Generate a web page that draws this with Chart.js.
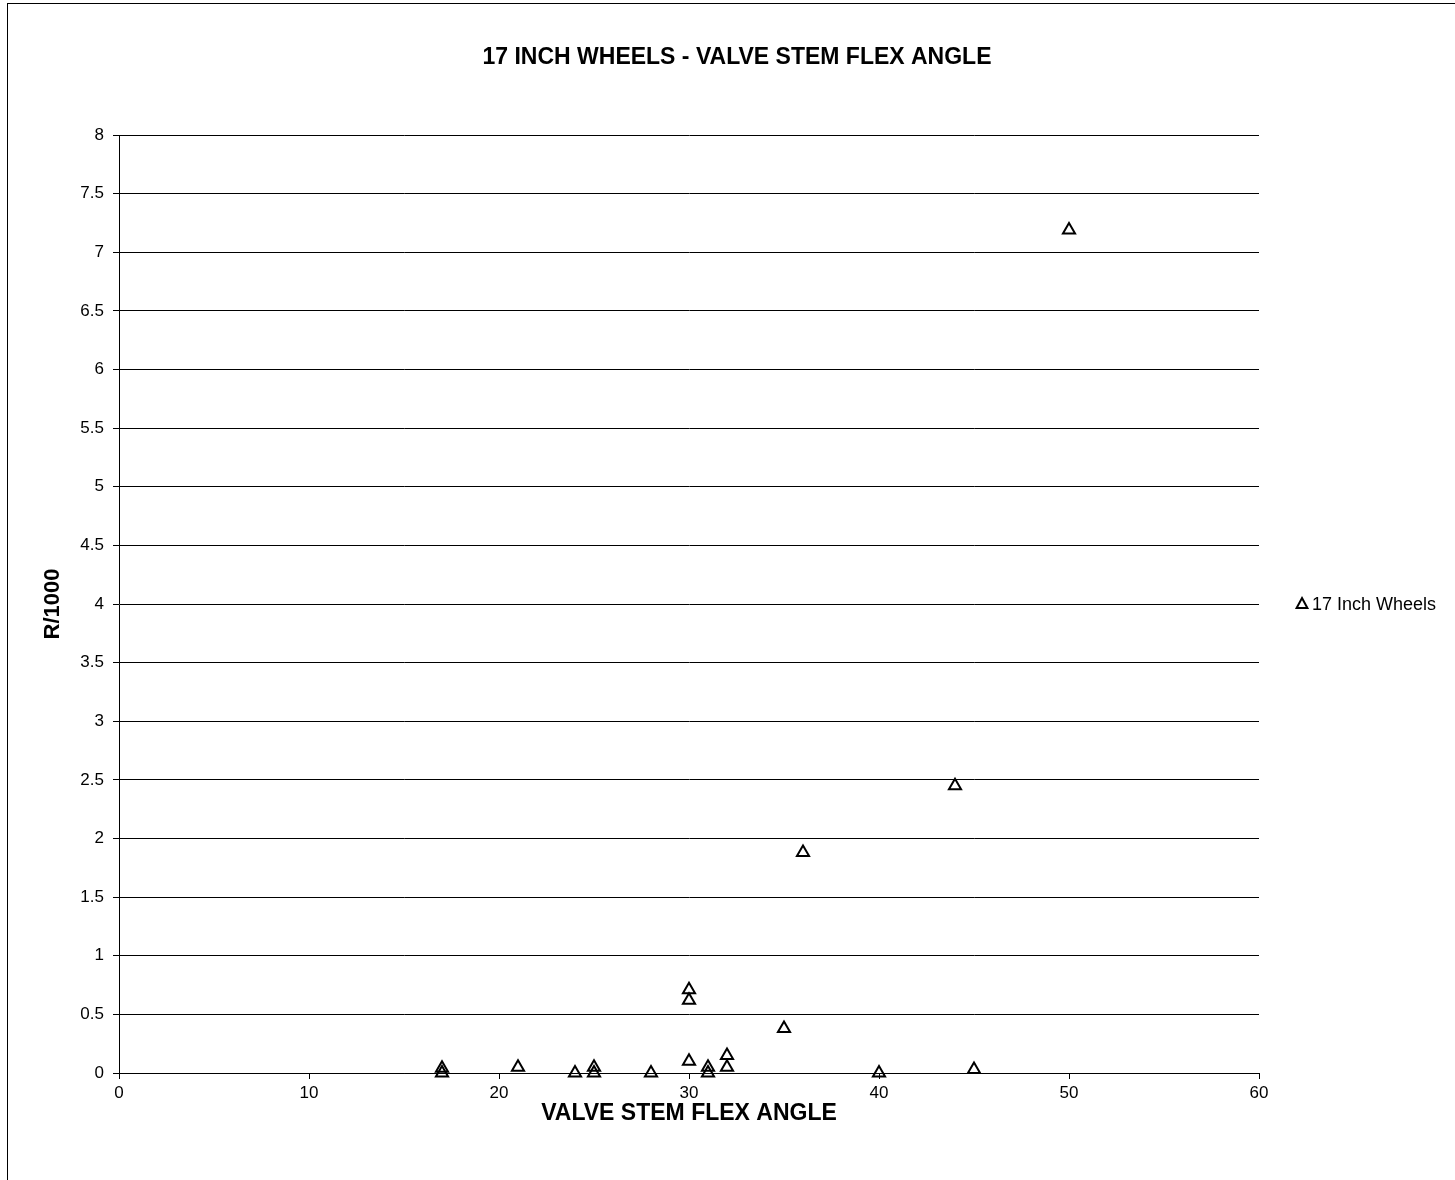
<!DOCTYPE html>
<html lang="en">
<head>
  <meta charset="UTF-8">
  <title>17 Inch Wheels - Valve Stem Flex Angle</title>
  <script src="https://cdn.jsdelivr.net/npm/chart.js"></script>
  <style>
    html, body { margin: 0; padding: 0; background: #fff; }
    #wrap { width: 1455px; height: 1180px; position: relative; }
  </style>
</head>
<body>
<div id="wrap"><canvas id="chart"></canvas></div>
<script>
  // Values
  const chartTitle = '17 INCH WHEELS - VALVE STEM FLEX ANGLE';
  const seriesName = '17 Inch Wheels';
  const flexAngle = [17, 17, 21, 24, 25, 25, 28, 30, 30, 30, 31, 31, 32, 32, 35, 36, 40, 44, 45, 50];
  const rPer1000  = [0.04, 0, 0.05, 0, 0.05, 0, 0, 0.1, 0.71, 0.62, 0.05, 0, 0.15, 0.05, 0.38, 1.88, 0, 2.45, 0.03, 7.19];

  const font = "'Liberation Sans', Arial, sans-serif";

  // outer frame, title and the legend entry on the right
  const decor = {
    id: 'decor',
    beforeDraw(chart) {
      const ctx = chart.ctx;
      ctx.save();
      ctx.fillStyle = '#fff';
      ctx.fillRect(0, 0, chart.width, chart.height);
      ctx.strokeStyle = '#000';
      ctx.lineWidth = 1;
      ctx.strokeRect(7.5, 3.5, 1600, 1400);
      ctx.restore();
    },
    afterDraw(chart) {
      const ctx = chart.ctx;
      const area = chart.chartArea;
      const y = chart.scales.y;
      ctx.save();
      ctx.fillStyle = '#000';
      ctx.font = 'bold 23px ' + font;
      ctx.textAlign = 'center';
      ctx.textBaseline = 'middle';
      ctx.fillText(chartTitle, 737, 58);

      // legend
      const ly = y.getPixelForValue(4);
      const lx = area.right + 43;
      const r = 6;
      ctx.lineWidth = 2;
      ctx.strokeStyle = '#000';
      ctx.beginPath();
      ctx.moveTo(lx, ly - r);
      ctx.lineTo(lx + r * 0.9, ly + r * 0.5 + 1);
      ctx.lineTo(lx - r * 0.9, ly + r * 0.5 + 1);
      ctx.closePath();
      ctx.stroke();
      ctx.font = '18px ' + font;
      ctx.textAlign = 'left';
      ctx.fillText(chart.data.datasets[0].label, lx + 10, ly + 1);
      ctx.restore();
    }
  };

  new Chart(document.getElementById('chart'), {
    type: 'scatter',
    data: {
      datasets: [{
        label: seriesName,
        data: flexAngle.map((a, i) => ({ x: a, y: rPer1000[i] })),
        pointStyle: 'triangle',
        pointRadius: 7,
        pointHoverRadius: 7,
        borderColor: '#000',
        backgroundColor: 'rgba(0,0,0,0)',
        borderWidth: 2,
        clip: false
      }]
    },
    options: {
      responsive: true,
      maintainAspectRatio: false,
      animation: false,
      layout: { padding: { top: 135, right: 196, left: 0, bottom: 0 } },
      plugins: {
        legend: { display: false },
        title: { display: false },
        tooltip: { enabled: false }
      },
      scales: {
        x: {
          type: 'linear',
          min: 0,
          max: 60,
          ticks: { stepSize: 10, color: '#000', font: { family: font, size: 17 }, padding: 4 },
          grid: { drawOnChartArea: false, drawTicks: true, tickLength: 6, color: '#000' },
          border: { color: '#000', width: 1 },
          title: {
            display: true,
            text: 'VALVE STEM FLEX ANGLE',
            color: '#000',
            font: { family: font, size: 23, weight: 'bold' },
            padding: { top: 53, bottom: 53 }
          },
          afterFit(scale) { scale.height = 107; }
        },
        y: {
          min: 0,
          max: 8,
          ticks: {
            stepSize: 0.5, color: '#000', font: { family: font, size: 17 }, padding: 9,
            callback: v => String(v)
          },
          grid: { color: '#000', lineWidth: 1, tickLength: 6 },
          border: { color: '#000', width: 1 },
          title: {
            display: true,
            text: 'R/1000',
            color: '#000',
            font: { family: font, size: 22, weight: 'bold' },
            padding: { top: 40, bottom: 40 }
          },
          afterFit(scale) { scale.width = 119; }
        }
      }
    },
    plugins: [decor]
  });
</script>
</body>
</html>
